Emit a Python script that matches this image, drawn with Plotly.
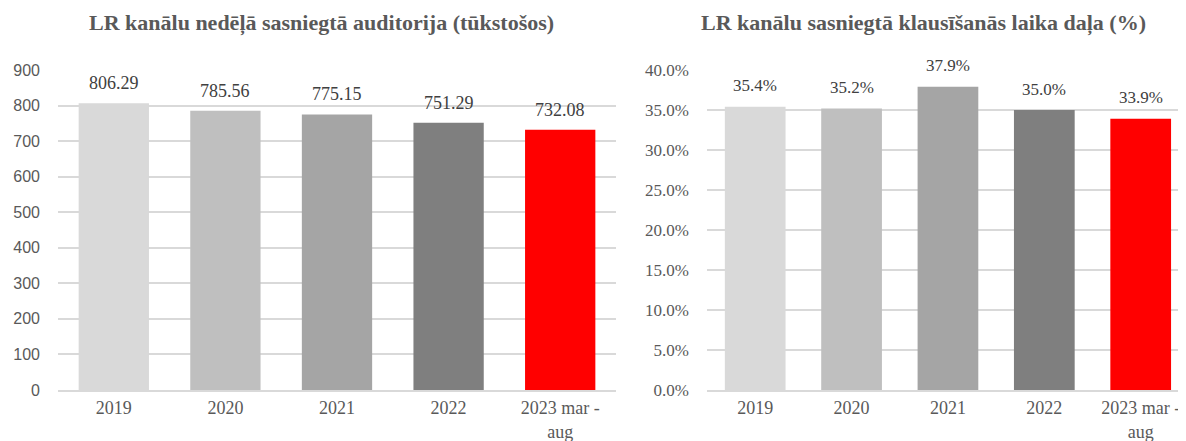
import plotly.graph_objects as go

categories = ["2019", "2020", "2021", "2022", "2023 mar -<br>aug"]
audience = [806.29, 785.56, 775.15, 751.29, 732.08]
share = [0.354, 0.352, 0.379, 0.350, 0.339]
colors = ["#D9D9D9", "#BFBFBF", "#A5A5A5", "#7F7F7F", "#FF0000"]
left_ticks = [0, 100, 200, 300, 400, 500, 600, 700, 800, 900]
right_ticks = [0, 0.05, 0.10, 0.15, 0.20, 0.25, 0.30, 0.35, 0.40]
title_left = "LR kanālu nedēļā sasniegtā auditorija (tūkstošos)"
title_right = "LR kanālu sasniegtā klausīšanās laika daļa (%)"

W, H = 1186, 441
OFF = 8  # page body margin
serif = "Liberation Serif, Times New Roman, serif"
sans = "Liberation Sans, Arial, sans-serif"
grid = "#D9D9D9"
label_color = "#404040"
tick_color = "#595959"


def px(x):
    return (x - OFF) / W


def py(y):
    return 1 - (y - OFF) / H


fig = go.Figure()
fig.add_trace(go.Bar(
    x=categories, y=audience, marker_color=colors, marker_line_width=0,
    width=0.63, xaxis="x", yaxis="y", showlegend=False, hoverinfo="skip"))
fig.add_trace(go.Bar(
    x=categories, y=share, marker_color=colors, marker_line_width=0,
    width=0.63, xaxis="x2", yaxis="y2", showlegend=False, hoverinfo="skip"))

annotations = []
for i, v in enumerate(audience):
    annotations.append(dict(x=i, y=v, xref="x", yref="y", text=f"{v:.2f}",
                            showarrow=False, yanchor="middle", yshift=20,
                            font=dict(family=serif, size=18, color=label_color)))
for i, v in enumerate(share):
    annotations.append(dict(x=i, y=v, xref="x2", yref="y2", text=f"{v*100:.1f}%",
                            showarrow=False, yanchor="middle", yshift=21,
                            font=dict(family=serif, size=17, color=label_color)))
annotations.append(dict(text=f"<b>{title_left}</b>", x=px(321), y=py(23),
                        xref="paper", yref="paper", showarrow=False,
                        xanchor="center", yanchor="middle",
                        font=dict(family=serif, size=22, color=tick_color)))
annotations.append(dict(text=f"<b>{title_right}</b>", x=px(923), y=py(23),
                        xref="paper", yref="paper", showarrow=False,
                        xanchor="center", yanchor="middle",
                        font=dict(family=serif, size=22, color=tick_color)))

ydom = [py(390), py(70)]
fig.update_layout(
    template="none",
    width=W, height=H, margin=dict(l=0, r=0, t=0, b=0, autoexpand=False),
    plot_bgcolor="white", paper_bgcolor="white",
    xaxis=dict(domain=[px(58), px(616)], anchor="y", automargin=False,
               type="category", range=[-0.5, 4.5], showgrid=False,
               showline=True, linecolor=grid, linewidth=1.5, ticks="",
               tickfont=dict(family=serif, size=18, color=tick_color),
               ticklabelstandoff=1),
    yaxis=dict(domain=ydom, anchor="x", automargin=False, range=[0, 900],
               tickvals=left_ticks,
               showgrid=True, gridcolor=grid, gridwidth=1.5, zeroline=False,
               showline=False, ticks="",
               tickfont=dict(family=sans, size=16, color=tick_color),
               ticklabelstandoff=17),
    xaxis2=dict(domain=[px(707), px(1186)], anchor="y2", automargin=False,
                type="category", range=[-0.5, 4.47], showgrid=False,
                showline=True, linecolor=grid, linewidth=1.5, ticks="",
                tickfont=dict(family=serif, size=18, color=tick_color),
                ticklabelstandoff=1),
    yaxis2=dict(domain=ydom, anchor="x2", automargin=False, range=[0, 0.4],
                tickvals=right_ticks,
                tickformat=".1%", showgrid=True, gridcolor=grid, gridwidth=1.5,
                zeroline=False, showline=False, ticks="",
                tickfont=dict(family=serif, size=17, color=tick_color),
                ticklabelstandoff=17),
    annotations=annotations,
)

fig.write_html("out.html")
